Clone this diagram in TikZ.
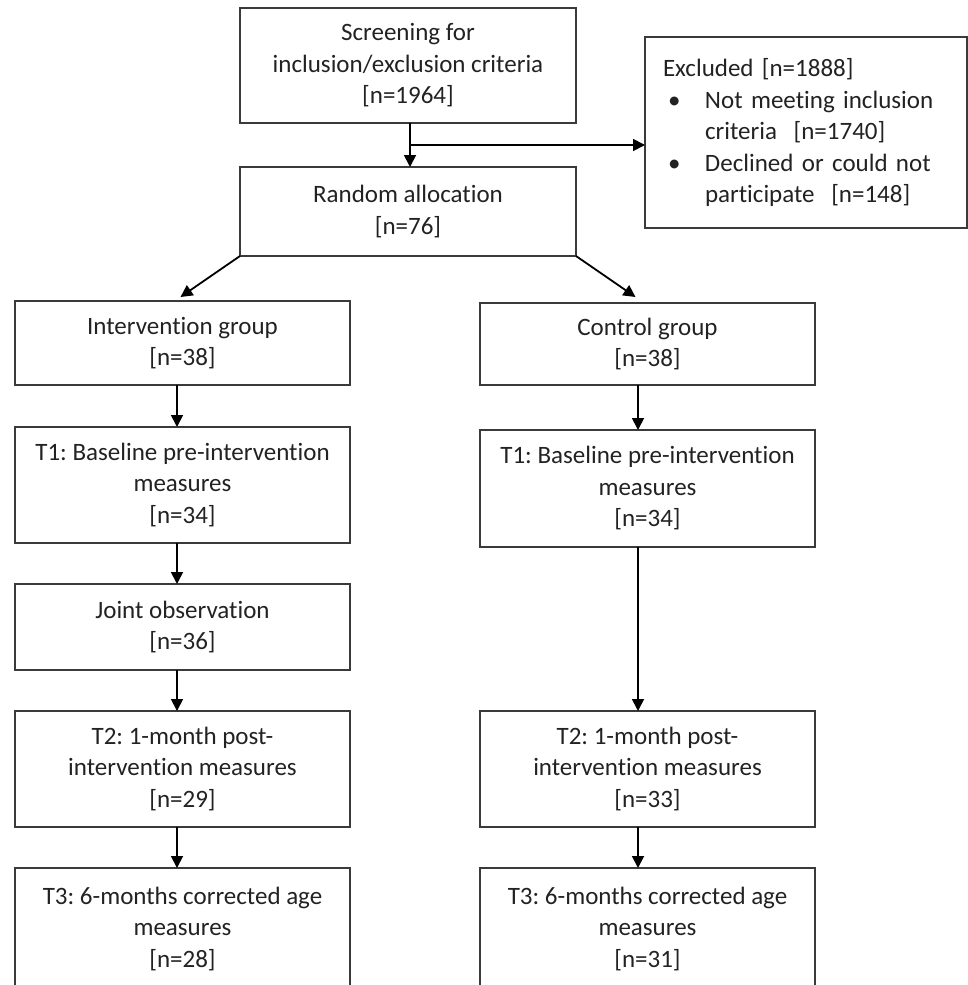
\documentclass[tikz,border=0pt]{standalone}
\usepackage{fontspec}
\setmainfont{Carlito}[Ligatures={NoCommon,NoRare,NoContextual},Contextuals=NoAlternate]
\usetikzlibrary{arrows.meta,calc}
\definecolor{txt}{HTML}{222222}
\definecolor{edge}{HTML}{3A3A3A}
\begin{document}
\frenchspacing
\begin{tikzpicture}[x=1pt,y=-1pt,
  box/.style={draw=edge,line width=1.4pt,text=txt,align=center,inner sep=0pt,outer sep=0pt,
    font=\fontsize{25}{31.5}\selectfont\frenchspacing},
  colbox/.style={box,minimum width=335pt},
  arr/.style={line width=1.8pt,draw=black,-{Triangle[length=12pt,width=12pt]}}]
\useasboundingbox (0,0) rectangle (968,985);
\clip (0,0) rectangle (968,985);

\node[box,minimum width=336pt,minimum height=115pt] (scr) at (408,65.5)
  {Screening for\\inclusion/exclusion criteria\\{[n=1964]}};
\node[box,minimum width=336pt,minimum height=89pt] (rand) at (408,211.5)
  {Random allocation\\{[n=76]}};
\node[box,minimum width=322pt,minimum height=191pt,text width=286pt,inner xsep=18pt,align=left] (excl) at (806,132.5)
  {Excluded [n=1888]\\
   \hspace*{5pt}\makebox[37pt][l]{\textbullet}Not meeting inclusion\\
   \hspace*{42pt}criteria~~[n=1740]\\
   \hspace*{5pt}\makebox[37pt][l]{\textbullet}Declined or could not\\
   \hspace*{42pt}participate~~[n=148]};

\node[colbox,minimum height=84pt] (int) at (182.5,343) {Intervention group\\{[n=38]}};
\node[colbox,minimum height=82pt] (ctl) at (647.5,344) {Control group\\{[n=38]}};
\node[colbox,minimum height=116pt] (t1i) at (182.5,485) {T1: Baseline pre-intervention\\measures\\{[n=34]}};
\node[colbox,minimum height=117pt] (t1c) at (647.5,488.5) {T1: Baseline pre-intervention\\measures\\{[n=34]}};
\node[colbox,minimum height=86pt] (joint) at (182.5,627) {Joint observation\\{[n=36]}};
\node[colbox,minimum height=116pt] (t2i) at (182.5,769) {T2: 1-month post-\\intervention measures\\{[n=29]}};
\node[colbox,minimum height=116pt] (t2c) at (647.5,769) {T2: 1-month post-\\intervention measures\\{[n=33]}};
\node[colbox,minimum height=122pt] (t3i) at (182.5,929) {T3: 6-months corrected age\\measures\\{[n=28]}};
\node[colbox,minimum height=122pt] (t3c) at (647.5,929) {T3: 6-months corrected age\\measures\\{[n=31]}};

\coordinate (br) at (410,145);
\coordinate (lx) at (177,0);
\coordinate (rx) at (638,0);

\draw[arr] (scr.south -| br) -- (rand.north -| br);
\draw[arr] (br) -- (br -| excl.west);
\draw[arr] (rand.south west) -- ($(int.north)+(-2,-4)$);
\draw[arr] (rand.south east) -- ($(ctl.north)+(-12,-6)$);

\draw[arr] (int.south -| lx) -- (t1i.north -| lx);
\draw[arr] (t1i.south -| lx) -- (joint.north -| lx);
\draw[arr] (joint.south -| lx) -- (t2i.north -| lx);
\draw[arr] (t2i.south -| lx) -- (t3i.north -| lx);

\draw[arr] (ctl.south -| rx) -- (t1c.north -| rx);
\draw[arr] (t1c.south -| rx) -- (t2c.north -| rx);
\draw[arr] (t2c.south -| rx) -- (t3c.north -| rx);
\end{tikzpicture}
\end{document}
